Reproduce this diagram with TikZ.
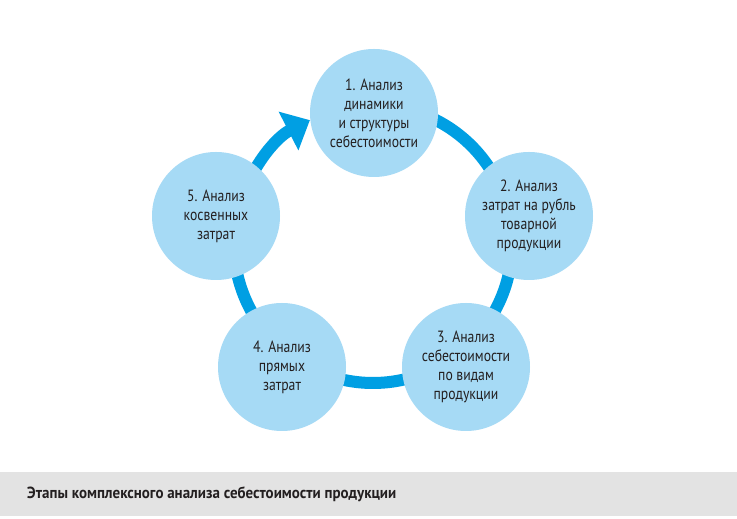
\documentclass[tikz,border=0pt]{standalone}
\usepackage{fontspec}
\setmainfont{PT Sans}[FakeStretch=0.84]
\newfontfamily\capfont{PT Sans}[FakeStretch=0.93]
\usetikzlibrary{arrows.meta}
\definecolor{ringblue}{HTML}{009FE3}
\definecolor{bubble}{HTML}{A6DAF5}
\definecolor{txt}{HTML}{231F20}
\definecolor{band}{HTML}{E3E3E3}
\tikzset{
  ringline/.style={draw=ringblue, line width=12pt},
  bubblenode/.style={circle, fill=bubble, minimum size=128pt, inner sep=0pt, align=center,
     text=txt, font=\fontsize{16.3}{19}\selectfont},
  captionnode/.style={anchor=west, text=txt, inner sep=0pt, font=\capfont\bfseries\fontsize{16.1}{18}\selectfont}
}
\begin{document}
\begin{tikzpicture}[x=1pt,y=1pt]
\useasboundingbox (0,0) rectangle (737,519);
\fill[white] (0,0) rectangle (737,519);
\fill[band] (0,3) rectangle (737,47);
\coordinate (c) at (373,275);
\draw[ringline] (c) ++(100:139) arc[start angle=100, end angle=-185, radius=139];
\draw[ringline, -{Triangle[width=42pt,length=24pt]}] (c) ++(165:139) arc[start angle=165, end angle=117, radius=139];
\node[bubblenode] (n1) at (374,406) {1. Анализ\\динамики\\и структуры\\себестоимости};
\node[bubblenode] (n2) at (529,303) {2. Анализ\\затрат на рубль\\товарной\\продукции};
\node[bubblenode] (n3) at (466,152) {3. Анализ\\себестоимости\\по видам\\продукции};
\node[bubblenode] (n4) at (282,152) {4. Анализ\\прямых\\затрат};
\node[bubblenode] (n5) at (216,303) {5. Анализ\\косвенных\\затрат};
\node[captionnode] (cap) at (27,25) {Этапы комплексного анализа себестоимости продукции};
\end{tikzpicture}
\end{document}
